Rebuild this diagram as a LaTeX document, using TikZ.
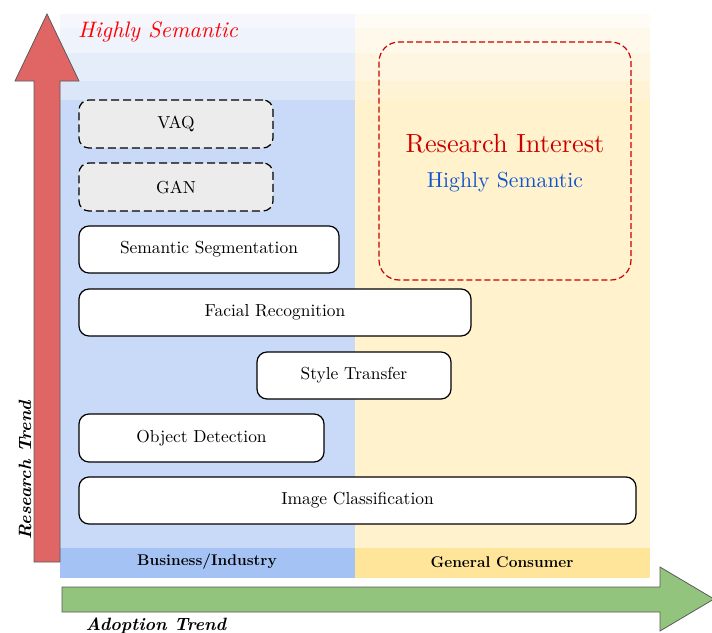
\documentclass[tikz,border=0pt]{standalone}
\usepackage{tikz}
% text set at its 10pt design size and enlarged as a whole
\newcommand{\bigtext}[2]{\scalebox{#1}{#2}}
\begin{document}
\begin{tikzpicture}[x=1pt,y=-1pt,
  bluemain/.style={fill={rgb,255:red,201;green,218;blue,248}},
  yellowmain/.style={fill={rgb,255:red,255;green,242;blue,204}},
  tech/.style={draw=black,line width=1.2pt,rounded corners=10pt,fill=white,inner sep=0pt},
  future/.style={tech,dashed,dash pattern=on 8pt off 4pt,fill={rgb,255:red,236;green,236;blue,236}},
  band/.style={font=\fontsize{15.5}{18}\selectfont\bfseries},
  axislabel/.style={font=\fontsize{17.8}{20}\selectfont\bfseries\itshape},
  bigarrow/.style={draw={rgb,255:red,90;green,90;blue,90},line width=0.8pt}
]
\useasboundingbox (0,0) rectangle (712,632);

% business / industry panel with its faded top
\fill[bluemain] (60,100) rectangle (355,548);
\fill[fill={rgb,255:red,245;green,247;blue,253}] (60,14) rectangle (355,28);
\fill[fill={rgb,255:red,238;green,243;blue,252}] (60,28) rectangle (355,53);
\fill[fill={rgb,255:red,230;green,237;blue,250}] (60,53) rectangle (355,81);
\fill[fill={rgb,255:red,219;green,230;blue,249}] (60,81) rectangle (355,100);
\fill[fill={rgb,255:red,164;green,194;blue,244}] (60,548) rectangle (355,578);

% general consumer panel with its faded top
\fill[yellowmain] (355,100) rectangle (650,548);
\fill[fill={rgb,255:red,255;green,252;blue,245}] (355,14) rectangle (650,28);
\fill[fill={rgb,255:red,255;green,249;blue,235}] (355,28) rectangle (650,53);
\fill[fill={rgb,255:red,255;green,246;blue,225}] (355,53) rectangle (650,81);
\fill[fill={rgb,255:red,255;green,243;blue,213}] (355,81) rectangle (650,100);
\fill[fill={rgb,255:red,255;green,229;blue,153}] (355,548) rectangle (650,578);

\node[band] (biz) at (207,562) {Business/Industry};
\node[band] (cons) at (502,562) {General Consumer};

% research trend arrow
\draw[bigarrow,fill={rgb,255:red,224;green,102;blue,102}]
  (34,562) -- (34,81) -- (15,81) -- (47,14) -- (79,81) -- (60,81) -- (60,562) -- cycle;
\node[axislabel,rotate=90,anchor=base west] (rt) at (31,543) {Research Trend};

% adoption trend arrow
\draw[bigarrow,fill={rgb,255:red,147;green,196;blue,125}]
  (62,587) -- (660,587) -- (660,567) -- (714,599) -- (660,631) -- (660,612) -- (62,612) -- cycle;
\node[axislabel,anchor=base west] (at) at (82,630) {Adoption Trend};

\node[anchor=base west,text={rgb,255:red,255;green,0;blue,0},inner sep=0pt] (hs) at (78,37)
  {\bigtext{2.24}{\itshape Highly Semantic}};

% research interest area
\node[draw={rgb,255:red,204;green,0;blue,0},line width=1.2pt,dashed,
  dash pattern=on 6pt off 3pt,rounded corners=20pt,
  minimum width=252pt,minimum height=238pt] (ri) at (505,161) {};
\node[anchor=base,text={rgb,255:red,204;green,0;blue,0},inner sep=0pt] (rit) at (505,152)
  {\bigtext{2.63}{Research Interest}};
\node[anchor=base,text={rgb,255:red,17;green,85;blue,204},inner sep=0pt] (ris) at (505,187)
  {\bigtext{2.17}{Highly Semantic}};

% techniques
\node[future,minimum width=194pt,minimum height=48pt] (vaq) at (176,124) {\bigtext{1.74}{VAQ}};
\node[future,minimum width=194pt,minimum height=48pt] (gan) at (176,187) {\bigtext{1.74}{GAN}};
\node[tech,minimum width=260pt,minimum height=47pt] (seg) at (209,249.5) {\bigtext{1.74}{Semantic Segmentation}};
\node[tech,minimum width=392pt,minimum height=47pt] (face) at (275,312.5) {\bigtext{1.74}{Facial Recognition}};
\node[tech,minimum width=194pt,minimum height=47pt] (style) at (354,375.5) {\bigtext{1.74}{Style Transfer}};
\node[tech,minimum width=245pt,minimum height=48pt] (obj) at (201.5,438) {\bigtext{1.74}{Object Detection}};
\node[tech,minimum width=557pt,minimum height=47pt] (cls) at (357.5,500.5) {\bigtext{1.74}{Image Classification}};
\end{tikzpicture}
\end{document}
